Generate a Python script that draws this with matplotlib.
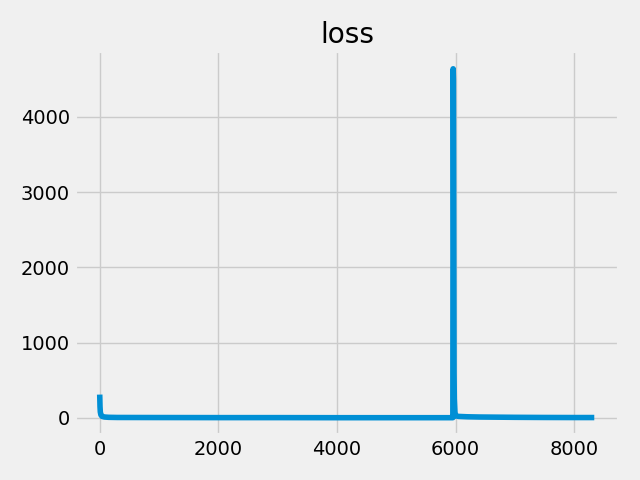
import matplotlib
matplotlib.use("Agg")
import matplotlib.pyplot as plt

plt.style.use("fivethirtyeight")

steps = [0, 2, 5, 10, 20, 40, 80, 150, 300, 1000, 2000, 3000, 4000, 5000, 5900,
         5955, 5960, 5965, 5970, 5975, 5980, 5990, 6000, 6050, 6200, 6400, 6700,
         7000, 7500, 8000, 8340]
loss = [310, 250, 150, 80, 40, 20, 12, 8, 6, 5, 4, 4, 3, 3, 3,
        3, 4640, 4500, 2500, 600, 250, 80, 30, 20, 15, 12, 10,
        8, 6, 5, 5]

fig, ax = plt.subplots(figsize=(6.4, 4.8), dpi=100)
ax.plot(steps, loss)
ax.set_title("loss")
fig.tight_layout()
fig.savefig("out.png")
